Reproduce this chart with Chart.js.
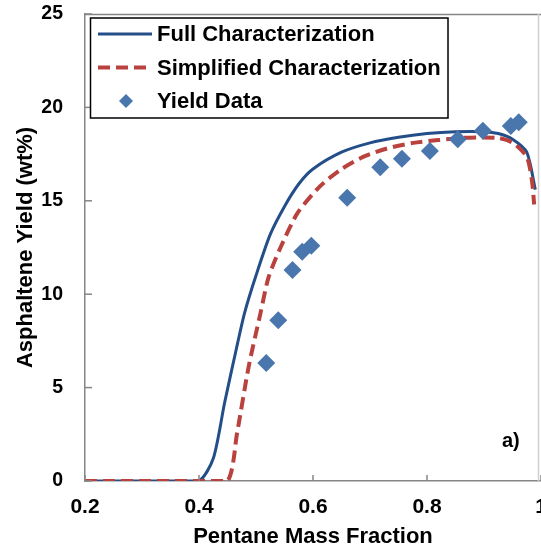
<!DOCTYPE html>
<html>
<head>
<meta charset="utf-8">
<script src="https://cdn.jsdelivr.net/npm/chart.js@4.4.1/dist/chart.umd.min.js"></script>
<style>
  html, body { margin: 0; padding: 0; background: #ffffff; overflow: hidden; }
  #wrap { width: 541px; height: 550px; overflow: hidden; }
</style>
</head>
<body>
<div id="wrap"><canvas id="c" width="541" height="550"></canvas></div>
<script>
// ---- Data ----
const xTickValues = [0.2, 0.4, 0.6, 0.8, 1.0];
const xTickLabels = ['0.2', '0.4', '0.6', '0.8', '1'];
const yTickValues = [0, 5, 10, 15, 20, 25];

const fullX = [0.2, 0.25, 0.3, 0.35, 0.4, 0.425, 0.445, 0.465, 0.48, 0.5, 0.525, 0.55, 0.575, 0.6, 0.65, 0.7, 0.75, 0.8, 0.85, 0.9, 0.925, 0.95, 0.975, 0.99];
const fullY = [0, 0, 0, 0, 0, 1.2, 4.2, 7.0, 9.0, 11.0, 13.2, 14.7, 15.9, 16.7, 17.6, 18.1, 18.4, 18.6, 18.7, 18.7, 18.6, 18.3, 17.6, 15.6];

const simpX = [0.2, 0.25, 0.3, 0.35, 0.4, 0.45, 0.467, 0.487, 0.508, 0.522, 0.543, 0.573, 0.613, 0.65, 0.688, 0.73, 0.776, 0.82, 0.863, 0.923, 0.951, 0.975, 0.984, 0.988];
const simpY = [0, 0, 0, 0, 0, 0, 2.6, 6.1, 9.0, 10.9, 12.5, 14.35, 15.8, 16.7, 17.35, 17.8, 18.1, 18.25, 18.37, 18.37, 18.1, 17.35, 16.1, 14.8];

const yieldX = [0.518, 0.539, 0.564, 0.581, 0.597, 0.660, 0.718, 0.756, 0.805, 0.854, 0.898, 0.947, 0.961];
const yieldY = [6.32, 8.6, 11.3, 12.27, 12.6, 15.16, 16.8, 17.25, 17.67, 18.3, 18.75, 19.0, 19.2];

const seriesLabels = ['Full Characterization', 'Simplified Characterization', 'Yield Data'];
const xTitle = 'Pentane Mass Fraction';
const yTitle = 'Asphaltene Yield (wt%)';
const panelLabel = 'a)';

const toPts = (xs, ys) => xs.map((x, i) => ({ x: x, y: ys[i] }));

const FONT = '"Liberation Sans", Arial, sans-serif';
const AXIS_GRAY = '#868686';

// inward tick marks + top/right frame + panel label
const framePlugin = {
  id: 'frame',
  afterDatasetsDraw(chart) {
    const ctx = chart.ctx, a = chart.chartArea;
    const xs = chart.scales.x, ys = chart.scales.y;
    ctx.save();
    ctx.strokeStyle = AXIS_GRAY;
    ctx.lineWidth = 1.5;
    ctx.beginPath();
    ctx.moveTo(a.left, a.top + 0.5);
    ctx.lineTo(a.right, a.top + 0.5);
    ctx.stroke();
    ctx.strokeStyle = '#d0d0d0';
    ctx.beginPath();
    ctx.moveTo(a.right - 2.5, a.top);
    ctx.lineTo(a.right - 2.5, a.bottom);
    ctx.stroke();
    ctx.strokeStyle = AXIS_GRAY;
    ctx.lineWidth = 1.5;
    xTickValues.forEach(v => {
      const px = xs.getPixelForValue(v);
      ctx.beginPath();
      ctx.moveTo(px, a.bottom);
      ctx.lineTo(px, a.bottom - 6);
      ctx.stroke();
    });
    yTickValues.forEach(v => {
      const py = ys.getPixelForValue(v);
      ctx.beginPath();
      ctx.moveTo(a.left, py);
      ctx.lineTo(a.left + 7, py);
      ctx.stroke();
    });
    // panel label
    ctx.fillStyle = '#000';
    ctx.font = 'bold 20px ' + FONT;
    ctx.textAlign = 'center';
    ctx.textBaseline = 'middle';
    ctx.fillText(panelLabel, xs.getPixelForValue(0.947), ys.getPixelForValue(2.1));
    ctx.restore();
  }
};

// legend drawn inside the plot area
const legendPlugin = {
  id: 'insideLegend',
  afterDraw(chart) {
    const ctx = chart.ctx;
    const ds = chart.data.datasets;
    const box = { l: 90.5, t: 18, r: 448, b: 118 };
    const rows = [34, 67.5, 101];
    ctx.save();
    ctx.fillStyle = '#fff';
    ctx.fillRect(box.l, box.t, box.r - box.l, box.b - box.t);
    ctx.strokeStyle = '#000';
    ctx.lineWidth = 1.5;
    ctx.strokeRect(box.l, box.t, box.r - box.l, box.b - box.t);
    ds.forEach((d, i) => {
      const y = rows[i];
      if (d.showLine) {
        ctx.strokeStyle = d.borderColor;
        ctx.lineWidth = d.borderWidth;
        ctx.setLineDash(d.borderDash || []);
        ctx.beginPath();
        ctx.moveTo(98, y);
        ctx.lineTo(152, y);
        ctx.stroke();
        ctx.setLineDash([]);
      } else {
        const r = 7;
        ctx.fillStyle = d.backgroundColor;
        ctx.beginPath();
        ctx.moveTo(126, y - r);
        ctx.lineTo(126 + r, y);
        ctx.lineTo(126, y + r);
        ctx.lineTo(126 - r, y);
        ctx.closePath();
        ctx.fill();
      }
      ctx.fillStyle = '#000';
      ctx.font = 'bold 22px ' + FONT;
      ctx.textAlign = 'left';
      ctx.textBaseline = 'middle';
      ctx.fillText(d.label, 157, y + 1);
    });
    ctx.restore();
  }
};

new Chart(document.getElementById('c'), {
  type: 'scatter',
  data: {
    datasets: [
      {
        label: seriesLabels[0],
        data: toPts(fullX, fullY),
        showLine: true,
        borderColor: '#234e88',
        borderWidth: 3,
        pointRadius: 0,
        tension: 0.25,
        order: 2
      },
      {
        label: seriesLabels[1],
        data: toPts(simpX, simpY),
        showLine: true,
        borderColor: '#b9423f',
        borderWidth: 4,
        borderDash: [12, 6],
        pointRadius: 0,
        tension: 0.25,
        order: 1
      },
      {
        label: seriesLabels[2],
        data: toPts(yieldX, yieldY),
        showLine: false,
        backgroundColor: '#4a76ae',
        borderColor: '#4a76ae',
        borderWidth: 0,
        pointStyle: 'rectRot',
        pointRadius: 9,
        order: 0
      }
    ]
  },
  options: {
    responsive: false,
    animation: false,
    layout: { autoPadding: false, padding: { top: 14, right: 0, left: 0, bottom: 0 } },
    plugins: {
      legend: { display: false },
      tooltip: { enabled: false }
    },
    scales: {
      x: {
        type: 'linear',
        min: 0.2, max: 1.0,
        afterBuildTicks: s => { s.ticks = xTickValues.map(v => ({ value: v })); },
        afterFit: s => { s.height = 69; s.paddingRight = 0; },
        grid: { display: false, drawTicks: false, tickLength: 0 },
        border: { display: true, color: AXIS_GRAY, width: 1.5 },
        ticks: {
          color: '#000',
          font: { family: FONT, size: 21, weight: 'bold' },
          padding: 14,
          maxRotation: 0,
          autoSkip: false,
          callback: (v, i) => xTickLabels[i]
        },
        title: {
          display: true,
          text: xTitle,
          color: '#000',
          font: { family: FONT, size: 22, weight: 'bold' },
          padding: { top: 0, bottom: 0 }
        }
      },
      y: {
        type: 'linear',
        min: 0, max: 25,
        afterBuildTicks: s => { s.ticks = yTickValues.map(v => ({ value: v })); },
        afterFit: s => { s.width = 85; s.paddingTop = 0; s.paddingBottom = 0; },
        grid: { display: false, drawTicks: false, tickLength: 0 },
        border: { display: true, color: AXIS_GRAY, width: 1.5 },
        ticks: {
          color: '#000',
          font: { family: FONT, size: 19.5, weight: 'bold' },
          padding: 22,
          autoSkip: false
        },
        title: {
          display: true,
          text: yTitle,
          color: '#000',
          font: { family: FONT, size: 22, weight: 'bold' },
          padding: { top: 13, bottom: 0 }
        }
      }
    }
  },
  plugins: [framePlugin, legendPlugin]
});
</script>
</body>
</html>
